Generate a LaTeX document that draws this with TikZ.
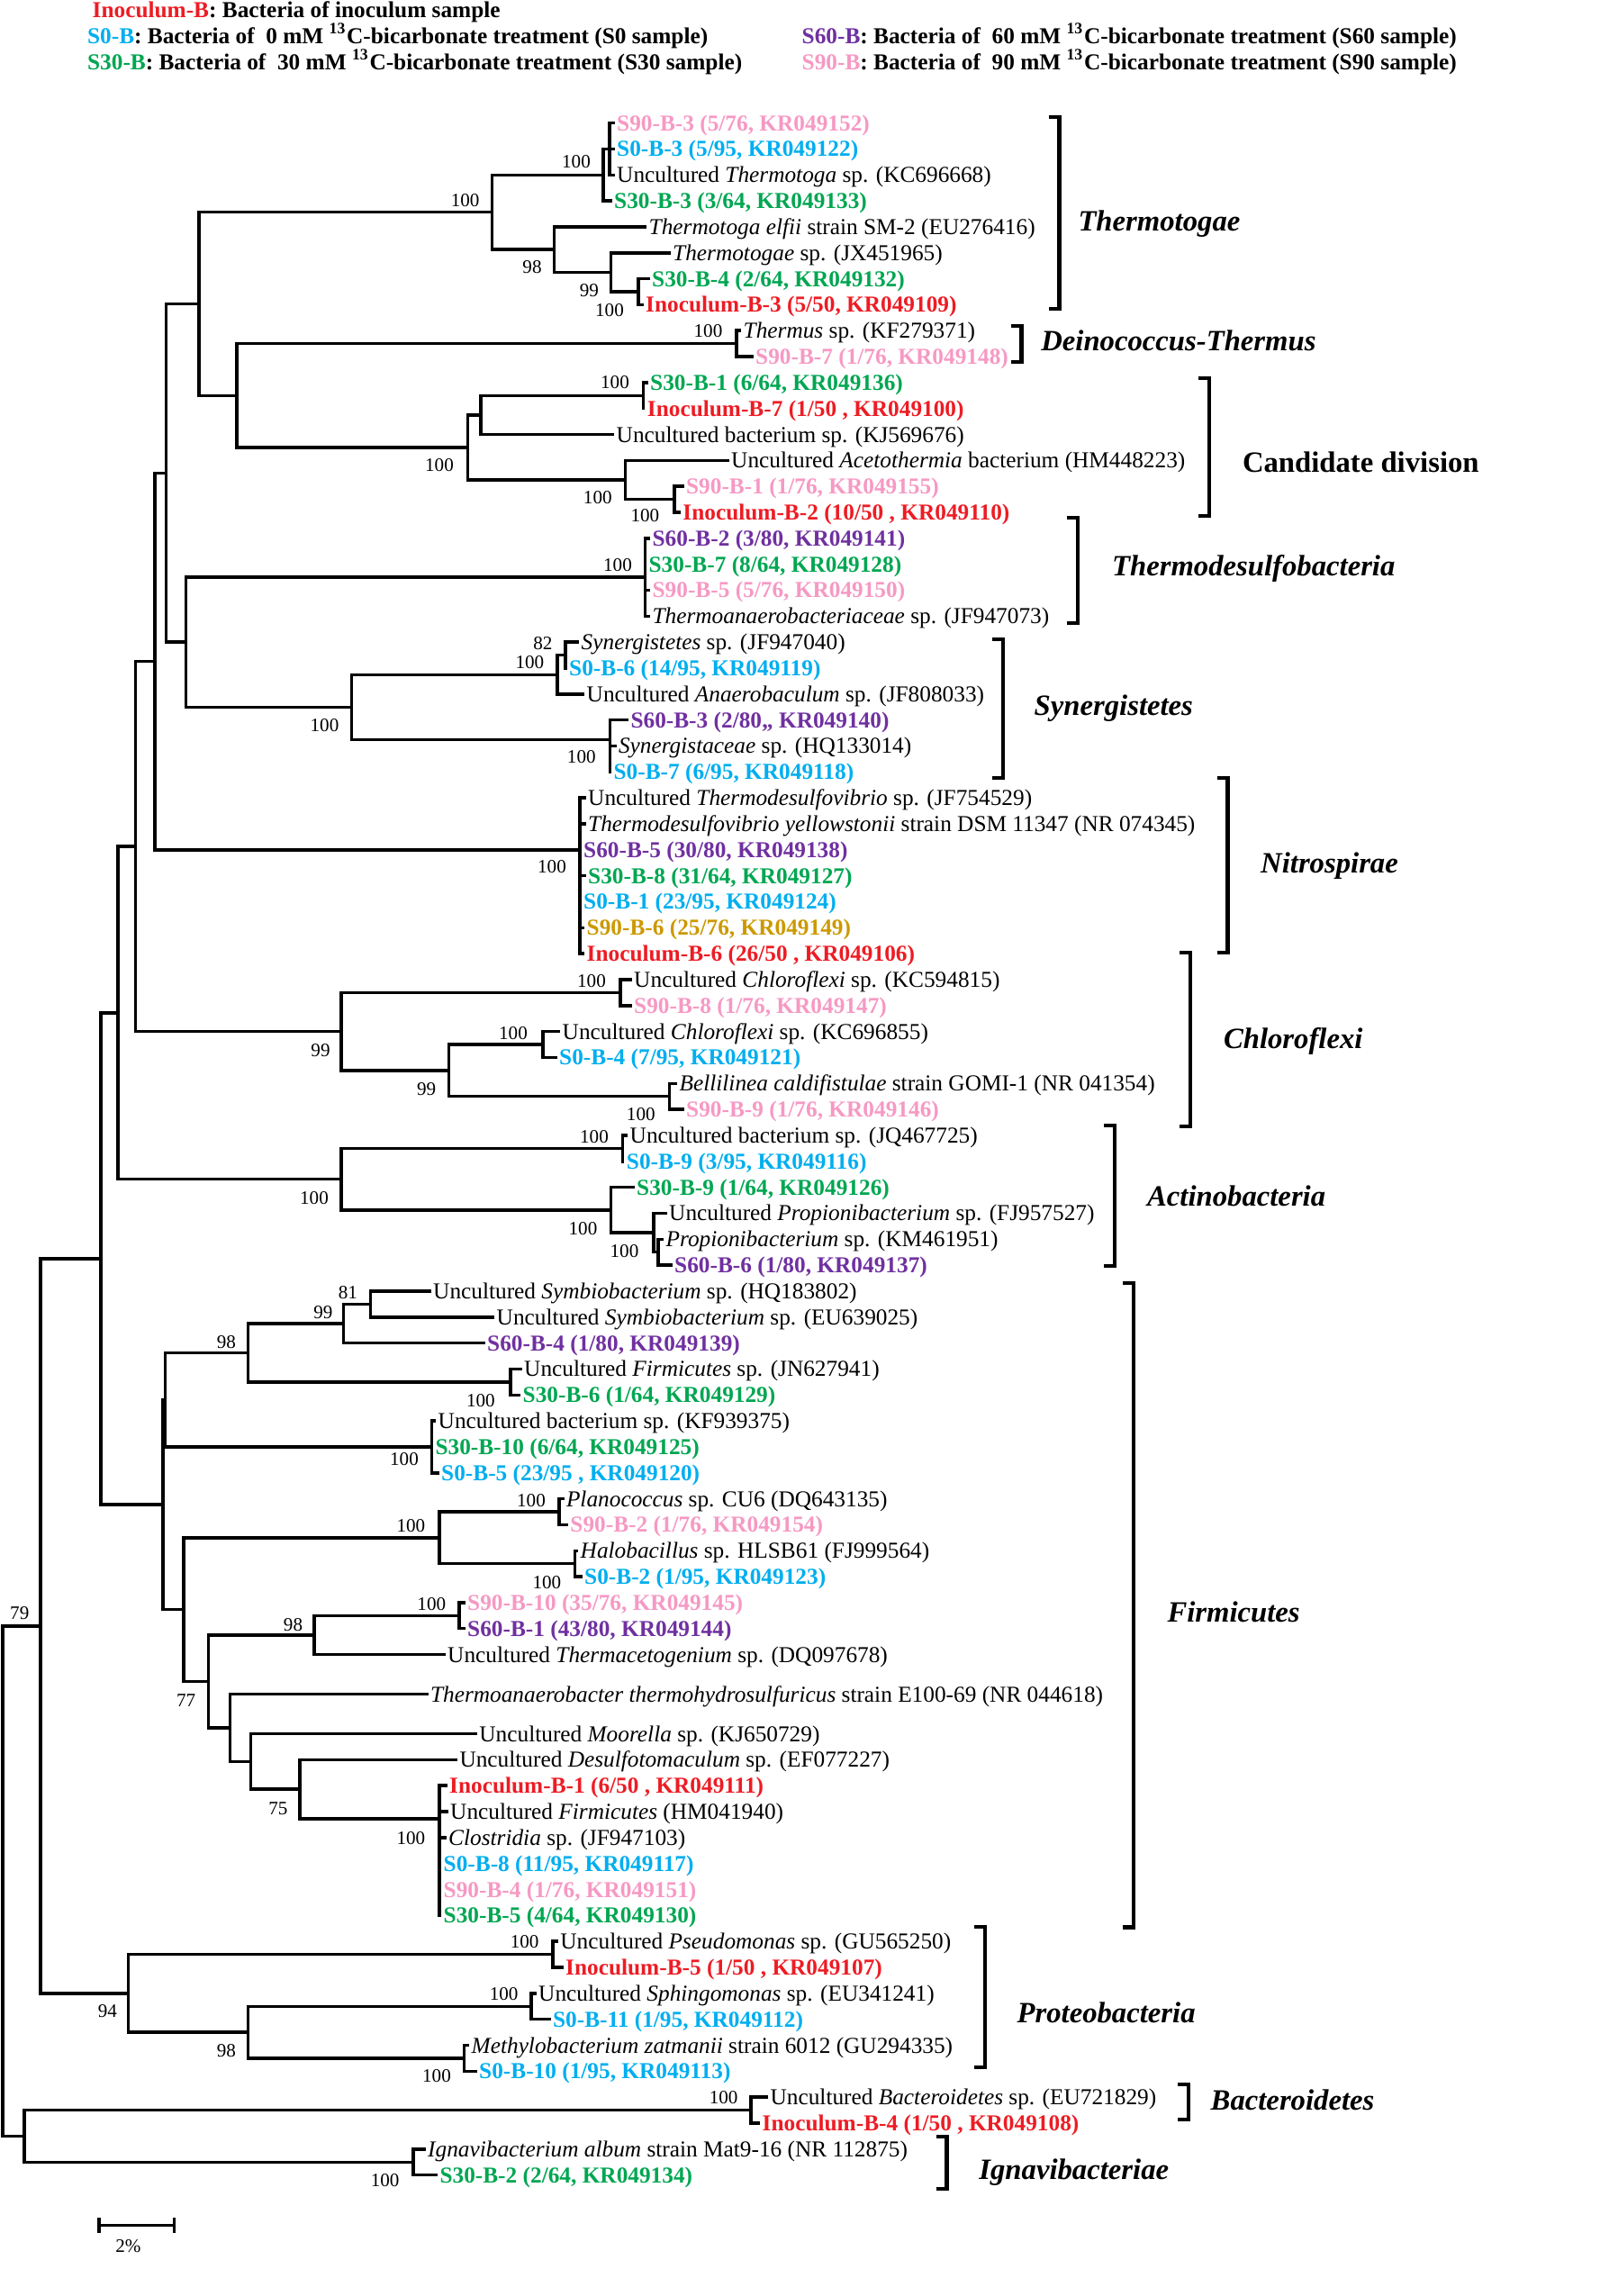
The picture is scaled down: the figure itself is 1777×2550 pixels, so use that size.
\documentclass[tikz,border=0pt]{standalone}
\usepackage{fontspec}
\setmainfont{Liberation Serif}
\usepackage{xcolor}
\usepackage{tikz}
\usetikzlibrary{arrows.meta}
\definecolor{inocred}{RGB}{237,28,36}
\definecolor{sblue}{RGB}{0,174,239}
\definecolor{sgreen}{RGB}{0,166,81}
\definecolor{spurple}{RGB}{112,48,160}
\definecolor{spink}{RGB}{246,153,196}
\definecolor{sgold}{RGB}{204,153,0}

\begin{document}
\begin{tikzpicture}[x=0.01cm, y=-0.01cm,
    branch/.style={line width=1pt, line cap=rect},
    leaf/.style={anchor=west, inner xsep=1pt, inner ysep=0pt, text height=4.8pt, text depth=0pt, font=\fontsize{7.2}{8.6}\selectfont},
    sample/.style={leaf, font=\fontsize{7.2}{8.6}\selectfont\bfseries},
    inoc/.style={sample, text=inocred},
    szero/.style={sample, text=sblue},
    sthirty/.style={sample, text=sgreen},
    ssixty/.style={sample, text=spurple},
    sninety/.style={sample, text=spink},
    sgoldtext/.style={sample, text=sgold},
    boot/.style={inner sep=0pt, font=\fontsize{6}{7}\selectfont},
    clade/.style={anchor=west, inner sep=0pt, text height=6.2pt, text depth=0pt, font=\fontsize{9.3}{11}\selectfont\bfseries\itshape},
    bracket/.style={line width=1.2pt},
    legend/.style={anchor=west, inner sep=0pt, text height=4.8pt, text depth=0pt, font=\fontsize{7.2}{8.6}\selectfont\bfseries}
]
    \useasboundingbox (0,0) rectangle (1777,2550);

    % Legend
    \node[legend] (legInoc) at (102,11) {\textcolor{inocred}{Inoculum-B}: Bacteria of inoculum sample};
    \node[legend] (legS0) at (96.4,40) {\textcolor{sblue}{S0-B}: Bacteria of\ \ 0 mM \textsuperscript{13}C-bicarbonate treatment (S0 sample)};
    \node[legend] (legS30) at (96.4,69) {\textcolor{sgreen}{S30-B}: Bacteria of\ \ 30 mM \textsuperscript{13}C-bicarbonate treatment (S30 sample)};
    \node[legend] (legS60) at (890,40) {\textcolor{spurple}{S60-B}: Bacteria of\ \ 60 mM \textsuperscript{13}C-bicarbonate treatment (S60 sample)};
    \node[legend] (legS90) at (890,69) {\textcolor{spink}{S90-B}: Bacteria of\ \ 90 mM \textsuperscript{13}C-bicarbonate treatment (S90 sample)};

    % Thermotogae
    \node[sninety] (s90b3) at (681,136.6) {S90-B-3 (5/76, KR049152)};
    \node[szero] (s0b3) at (681,165.4) {S0-B-3 (5/95, KR049122)};
    \node[leaf] (kc696668) at (681,194.3) {Uncultured \textit{Thermotoga} sp. (KC696668)};
    \node[sthirty] (s30b3) at (678,223.1) {S30-B-3 (3/64, KR049133)};
    \node[leaf] (eu276416) at (716.5,251.9) {\textit{Thermotoga elfii} strain SM-2 (EU276416)};
    \node[leaf] (jx451965) at (743,280.8) {\textit{Thermotogae} sp. (JX451965)};
    \node[sthirty] (s30b4) at (720,309.6) {S30-B-4 (2/64, KR049132)};
    \node[inoc] (inocb3) at (713,338.4) {Inoculum-B-3 (5/50, KR049109)};

    % Deinococcus-Thermus
    \node[leaf] (kf279371) at (821.5,367.2) {\textit{Thermus} sp. (KF279371)};
    \node[sninety] (s90b7) at (835,396.1) {S90-B-7 (1/76, KR049148)};

    % Candidate division
    \node[sthirty] (s30b1) at (718,424.9) {S30-B-1 (6/64, KR049136)};
    \node[inoc] (inocb7) at (714.7,453.7) {Inoculum-B-7 (1/50 , KR049100)};
    \node[leaf] (kj569676) at (680.5,482.6) {Uncultured bacterium sp. (KJ569676)};
    \node[leaf] (hm448223) at (808,511.4) {Uncultured \textit{Acetothermia} bacterium (HM448223)};
    \node[sninety] (s90b1) at (757.9,540.2) {S90-B-1 (1/76, KR049155)};
    \node[inoc] (inocb2) at (754.2,569.1) {Inoculum-B-2 (10/50 , KR049110)};

    % Thermodesulfobacteria
    \node[ssixty] (s60b2) at (720.4,597.9) {S60-B-2 (3/80, KR049141)};
    \node[sthirty] (s30b7) at (716.4,626.7) {S30-B-7 (8/64, KR049128)};
    \node[sninety] (s90b5) at (720.4,655.5) {S90-B-5 (5/76, KR049150)};
    \node[leaf] (jf947073) at (720.4,684.4) {\textit{Thermoanaerobacteriaceae} sp. (JF947073)};

    % Synergistetes
    \node[leaf] (jf947040) at (641.5,713.2) {\textit{Synergistetes} sp. (JF947040)};
    \node[szero] (s0b6) at (628,742.0) {S0-B-6 (14/95, KR049119)};
    \node[leaf] (jf808033) at (647.5,770.9) {Uncultured \textit{Anaerobaculum} sp. (JF808033)};
    \node[ssixty] (s60b3) at (696.3,799.7) {S60-B-3 (2/80,, KR049140)};
    \node[leaf] (hq133014) at (682.8,828.5) {\textit{Synergistaceae} sp. (HQ133014)};
    \node[szero] (s0b7) at (677.4,857.4) {S0-B-7 (6/95, KR049118)};

    % Nitrospirae
    \node[leaf] (jf754529) at (649,886.2) {Uncultured \textit{Thermodesulfovibrio} sp. (JF754529)};
    \node[leaf] (nr074345) at (649,915.0) {\textit{Thermodesulfovibrio yellowstonii} strain DSM 11347 (NR 074345)};
    \node[ssixty] (s60b5) at (644,943.8) {S60-B-5 (30/80, KR049138)};
    \node[sthirty] (s30b8) at (649,972.7) {S30-B-8 (31/64, KR049127)};
    \node[szero] (s0b1) at (644,1001.5) {S0-B-1 (23/95, KR049124)};
    \node[sgoldtext] (s90b6) at (647.5,1030.3) {S90-B-6 (25/76, KR049149)};
    \node[inoc] (inocb6) at (647.5,1059.2) {Inoculum-B-6 (26/50 , KR049106)};

    % Chloroflexi
    \node[leaf] (kc594815) at (700,1088.0) {Uncultured \textit{Chloroflexi} sp. (KC594815)};
    \node[sninety] (s90b8) at (700,1116.8) {S90-B-8 (1/76, KR049147)};
    \node[leaf] (kc696855) at (620.5,1145.7) {Uncultured \textit{Chloroflexi} sp. (KC696855)};
    \node[szero] (s0b4) at (617,1174.5) {S0-B-4 (7/95, KR049121)};
    \node[leaf] (nr041354) at (750.4,1203.3) {\textit{Bellilinea caldifistulae} strain GOMI-1 (NR 041354)};
    \node[sninety] (s90b9) at (758,1232.1) {S90-B-9 (1/76, KR049146)};

    % Actinobacteria
    \node[leaf] (jq467725) at (695.5,1261.0) {Uncultured bacterium sp. (JQ467725)};
    \node[szero] (s0b9) at (691.7,1289.8) {S0-B-9 (3/95, KR049116)};
    \node[sthirty] (s30b9) at (703,1318.6) {S30-B-9 (1/64, KR049126)};
    \node[leaf] (fj957527) at (739,1347.5) {Uncultured \textit{Propionibacterium} sp. (FJ957527)};
    \node[leaf] (km461951) at (735.4,1376.3) {\textit{Propionibacterium} sp. (KM461951)};
    \node[ssixty] (s60b6) at (745,1405.1) {S60-B-6 (1/80, KR049137)};

    % Firmicutes
    \node[leaf] (hq183802) at (477,1434.0) {Uncultured \textit{Symbiobacterium} sp. (HQ183802)};
    \node[leaf] (eu639025) at (547.5,1462.8) {Uncultured \textit{Symbiobacterium} sp. (EU639025)};
    \node[ssixty] (s60b4) at (537,1491.6) {S60-B-4 (1/80, KR049139)};
    \node[leaf] (jn627941) at (578,1520.4) {Uncultured \textit{Firmicutes} sp. (JN627941)};
    \node[sthirty] (s30b6) at (576.5,1549.3) {S30-B-6 (1/64, KR049129)};
    \node[leaf] (kf939375) at (482.5,1578.1) {Uncultured bacterium sp. (KF939375)};
    \node[sthirty] (s30b10) at (479.3,1606.9) {S30-B-10 (6/64, KR049125)};
    \node[szero] (s0b5) at (486,1635.8) {S0-B-5 (23/95 , KR049120)};
    \node[leaf] (dq643135) at (624.8,1664.6) {\textit{Planococcus} sp. CU6 (DQ643135)};
    \node[sninety] (s90b2) at (629.2,1693.4) {S90-B-2 (1/76, KR049154)};
    \node[leaf] (fj999564) at (640.5,1722.3) {\textit{Halobacillus} sp. HLSB61 (FJ999564)};
    \node[szero] (s0b2) at (645,1751.1) {S0-B-2 (1/95, KR049123)};
    \node[sninety] (s90b10) at (515,1779.9) {S90-B-10 (35/76, KR049145)};
    \node[ssixty] (s60b1) at (515,1808.7) {S60-B-1 (43/80, KR049144)};
    \node[leaf] (dq097678) at (493,1837.6) {Uncultured \textit{Thermacetogenium} sp. (DQ097678)};
    \node[leaf] (nr044618) at (473.8,1881.6) {\textit{Thermoanaerobacter thermohydrosulfuricus} strain E100-69 (NR 044618)};
    \node[leaf] (kj650729) at (528.2,1925.6) {Uncultured \textit{Moorella} sp. (KJ650729)};
    \node[leaf] (ef077227) at (506.3,1954.4) {Uncultured \textit{Desulfotomaculum} sp. (EF077227)};
    \node[inoc] (inocb1) at (495,1983.2) {Inoculum-B-1 (6/50 , KR049111)};
    \node[leaf] (hm041940) at (496,2012.1) {Uncultured \textit{Firmicutes} (HM041940)};
    \node[leaf] (jf947103) at (494,2040.9) {\textit{Clostridia} sp. (JF947103)};
    \node[szero] (s0b8) at (488.5,2069.7) {S0-B-8 (11/95, KR049117)};
    \node[sninety] (s90b4) at (488.5,2098.6) {S90-B-4 (1/76, KR049151)};
    \node[sthirty] (s30b5) at (488.5,2127.4) {S30-B-5 (4/64, KR049130)};

    % Proteobacteria
    \node[leaf] (gu565250) at (618.2,2156.2) {Uncultured \textit{Pseudomonas} sp. (GU565250)};
    \node[inoc] (inocb5) at (624,2185.1) {Inoculum-B-5 (1/50 , KR049107)};
    \node[leaf] (eu341241) at (594,2213.9) {Uncultured \textit{Sphingomonas} sp. (EU341241)};
    \node[szero] (s0b11) at (609.9,2242.7) {S0-B-11 (1/95, KR049112)};
    \node[leaf] (gu294335) at (519.5,2271.6) {\textit{Methylobacterium zatmanii} strain 6012 (GU294335)};
    \node[szero] (s0b10) at (528,2300.4) {S0-B-10 (1/95, KR049113)};

    % Bacteroidetes and Ignavibacteriae
    \node[leaf] (eu721829) at (851.4,2329.2) {Uncultured \textit{Bacteroidetes} sp. (EU721829)};
    \node[inoc] (inocb4) at (842.5,2358.0) {Inoculum-B-4 (1/50 , KR049108)};
    \node[leaf] (nr112875) at (471,2386.9) {\textit{Ignavibacterium album} strain Mat9-16 (NR 112875)};
    \node[sthirty] (s30b2) at (484.3,2415.7) {S30-B-2 (2/64, KR049134)};

    % Inner nodes
    \coordinate (tgB) at (677,165.4);
    \coordinate (tgA) at (670,194.3);
    \coordinate (tgE) at (709,324);
    \coordinate (tgD) at (678.5,302.4);
    \coordinate (tgC) at (615.4,277.2);
    \coordinate (tg) at (546.5,235.7);
    \coordinate (dt) at (818,381.7);
    \coordinate (cdJ) at (714.7,439.3);
    \coordinate (cdI) at (534,461);
    \coordinate (cdL) at (749,554.7);
    \coordinate (cdK) at (694.6,533);
    \coordinate (cd) at (519.5,497);
    \coordinate (dtcd) at (263,439.4);
    \coordinate (tgdc) at (221,337.5);
    \coordinate (td) at (716.4,641.2);
    \coordinate (syR) at (628,727.6);
    \coordinate (syP) at (618.8,749.3);
    \coordinate (syQ2) at (677.4,843);
    \coordinate (syQ) at (677.4,821.3);
    \coordinate (sy) at (390.4,785.3);
    \coordinate (tdsy) at (206.7,713.2);
    \coordinate (upper) at (184.3,525.4);
    \coordinate (ni2) at (644,1001.5);
    \coordinate (ni) at (644,943.9);
    \coordinate (upni) at (172.2,734.6);
    \coordinate (clW) at (688.9,1102.4);
    \coordinate (clY) at (602.8,1160.1);
    \coordinate (clZ) at (743.4,1217.7);
    \coordinate (clX) at (498.3,1188.9);
    \coordinate (cl) at (379,1145.7);
    \coordinate (upcl) at (150.4,940.2);
    \coordinate (acC) at (691.7,1275.4);
    \coordinate (acF) at (731,1390.7);
    \coordinate (acE) at (726,1369.1);
    \coordinate (acD) at (678.5,1343.9);
    \coordinate (ac) at (379,1309.6);
    \coordinate (upac) at (131,1124.9);
    \coordinate (fiO) at (411.6,1448.4);
    \coordinate (fiM) at (381.7,1470);
    \coordinate (fiN) at (567.2,1534.9);
    \coordinate (fiK) at (275.5,1502.4);
    \coordinate (fiL) at (479.3,1607);
    \coordinate (fiI) at (183.7,1554.7);
    \coordinate (fiR) at (621,1679);
    \coordinate (fiS) at (638.4,1736.7);
    \coordinate (fiP) at (488,1707.9);
    \coordinate (fiV) at (509.8,1794.3);
    \coordinate (fiT) at (349,1816);
    \coordinate (fiY) at (488,2020);
    \coordinate (fiX) at (333,1987.2);
    \coordinate (fiW) at (278.4,1956.4);
    \coordinate (fiU) at (255.5,1919);
    \coordinate (fiQ) at (231.3,1867.5);
    \coordinate (fiJ) at (203.8,1787.7);
    \coordinate (fi) at (181,1671.2);
    \coordinate (upfi) at (112,1398);
    \coordinate (prD) at (614.2,2170.7);
    \coordinate (prF) at (590,2228.3);
    \coordinate (prG) at (515.5,2286);
    \coordinate (prE) at (275.5,2257.2);
    \coordinate (pr) at (142.4,2214);
    \coordinate (uppr) at (44.8,1806);
    \coordinate (bt) at (834,2343.6);
    \coordinate (ig) at (459.2,2401.3);
    \coordinate (btig) at (27,2372.5);
    \coordinate (root) at (3,2089.2);

    % Branches
    \draw[branch] (tgB) |- (s90b3.west) (tgB) |- (s0b3.west) (tgB) |- (kc696668.west);
    \draw[branch] (tgA) |- (tgB) (tgA) |- (s30b3.west);
    \draw[branch] (tgE) |- (s30b4.west) (tgE) |- (inocb3.west);
    \draw[branch] (tgD) |- (jx451965.west) (tgD) |- (tgE);
    \draw[branch] (tgC) |- (eu276416.west) (tgC) |- (tgD);
    \draw[branch] (tg) |- (tgA) (tg) |- (tgC);
    \draw[branch] (dt) |- (kf279371.west) (dt) |- (s90b7.west);
    \draw[branch] (cdJ) |- (s30b1.west) (cdJ) |- (inocb7.west);
    \draw[branch] (cdI) |- (cdJ) (cdI) |- (kj569676.west);
    \draw[branch] (cdL) |- (s90b1.west) (cdL) |- (inocb2.west);
    \draw[branch] (cdK) |- (hm448223.west) (cdK) |- (cdL);
    \draw[branch] (cd) |- (cdI) (cd) |- (cdK);
    \draw[branch] (dtcd) |- (dt) (dtcd) |- (cd);
    \draw[branch] (tgdc) |- (tg) (tgdc) |- (dtcd);
    \draw[branch] (td) |- (s60b2.west) (td) |- (s30b7.west) (td) |- (s90b5.west) (td) |- (jf947073.west);
    \draw[branch] (syR) |- (jf947040.west) (syR) |- (s0b6.west);
    \draw[branch] (syP) |- (syR) (syP) |- (jf808033.west);
    \draw[branch] (syQ2) |- (hq133014.west) (syQ2) |- (s0b7.west);
    \draw[branch] (syQ) |- (s60b3.west) (syQ) |- (syQ2);
    \draw[branch] (sy) |- (syP) (sy) |- (syQ);
    \draw[branch] (tdsy) |- (td) (tdsy) |- (sy);
    \draw[branch] (upper) |- (tgdc) (upper) |- (tdsy);
    \draw[branch] (ni2) |- (s60b5.west) (ni2) |- (s30b8.west) (ni2) |- (s0b1.west) (ni2) |- (s90b6.west) (ni2) |- (inocb6.west);
    \draw[branch] (ni) |- (jf754529.west) (ni) |- (nr074345.west) (ni) |- (ni2);
    \draw[branch] (upni) |- (upper) (upni) |- (ni);
    \draw[branch] (clW) |- (kc594815.west) (clW) |- (s90b8.west);
    \draw[branch] (clY) |- (kc696855.west) (clY) |- (s0b4.west);
    \draw[branch] (clZ) |- (nr041354.west) (clZ) |- (s90b9.west);
    \draw[branch] (clX) |- (clY) (clX) |- (clZ);
    \draw[branch] (cl) |- (clW) (cl) |- (clX);
    \draw[branch] (upcl) |- (upni) (upcl) |- (cl);
    \draw[branch] (acC) |- (jq467725.west) (acC) |- (s0b9.west);
    \draw[branch] (acF) |- (km461951.west) (acF) |- (s60b6.west);
    \draw[branch] (acE) |- (fj957527.west) (acE) |- (acF);
    \draw[branch] (acD) |- (s30b9.west) (acD) |- (acE);
    \draw[branch] (ac) |- (acC) (ac) |- (acD);
    \draw[branch] (upac) |- (upcl) (upac) |- (ac);
    \draw[branch] (fiO) |- (hq183802.west) (fiO) |- (eu639025.west);
    \draw[branch] (fiM) |- (fiO) (fiM) |- (s60b4.west);
    \draw[branch] (fiN) |- (jn627941.west) (fiN) |- (s30b6.west);
    \draw[branch] (fiK) |- (fiM) (fiK) |- (fiN);
    \draw[branch] (fiL) |- (kf939375.west) (fiL) |- (s30b10.west) (fiL) |- (s0b5.west);
    \draw[branch] (fiI) |- (fiK) (fiI) |- (fiL);
    \draw[branch] (fiR) |- (dq643135.west) (fiR) |- (s90b2.west);
    \draw[branch] (fiS) |- (fj999564.west) (fiS) |- (s0b2.west);
    \draw[branch] (fiP) |- (fiR) (fiP) |- (fiS);
    \draw[branch] (fiV) |- (s90b10.west) (fiV) |- (s60b1.west);
    \draw[branch] (fiT) |- (fiV) (fiT) |- (dq097678.west);
    \draw[branch] (fiY) |- (inocb1.west) (fiY) |- (hm041940.west) (fiY) |- (jf947103.west) (fiY) |- (s0b8.west) (fiY) |- (s90b4.west) (fiY) |- (s30b5.west);
    \draw[branch] (fiX) |- (ef077227.west) (fiX) |- (fiY);
    \draw[branch] (fiW) |- (kj650729.west) (fiW) |- (fiX);
    \draw[branch] (fiU) |- (nr044618.west) (fiU) |- (fiW);
    \draw[branch] (fiQ) |- (fiT) (fiQ) |- (fiU);
    \draw[branch] (fiJ) |- (fiP) (fiJ) |- (fiQ);
    \draw[branch] (fi) |- (fiI) (fi) |- (fiJ);
    \draw[branch] (upfi) |- (upac) (upfi) |- (fi);
    \draw[branch] (prD) |- (gu565250.west) (prD) |- (inocb5.west);
    \draw[branch] (prF) |- (eu341241.west) (prF) |- (s0b11.west);
    \draw[branch] (prG) |- (gu294335.west) (prG) |- (s0b10.west);
    \draw[branch] (prE) |- (prF) (prE) |- (prG);
    \draw[branch] (pr) |- (prD) (pr) |- (prE);
    \draw[branch] (uppr) |- (upfi) (uppr) |- (pr);
    \draw[branch] (bt) |- (eu721829.west) (bt) |- (inocb4.west);
    \draw[branch] (ig) |- (nr112875.west) (ig) |- (s30b2.west);
    \draw[branch] (btig) |- (bt) (btig) |- (ig);
    \draw[branch] (root) |- (uppr) (root) |- (btig);

    % Bootstrap values
    \node[boot] (bsTgA) at (640,180) {100};
    \node[boot] (bsTg) at (516.7,222.7) {100};
    \node[boot] (bsTgC) at (591,297) {98};
    \node[boot] (bsTgD) at (654.4,322.7) {99};
    \node[boot] (bsTgE) at (677,345) {100};
    \node[boot] (bsDt) at (786.5,368) {100};
    \node[boot] (bsCdJ) at (683,425) {100};
    \node[boot] (bsCd) at (488,516.7) {100};
    \node[boot] (bsCdK) at (663.8,553) {100};
    \node[boot] (bsCdL) at (716.4,573) {100};
    \node[boot] (bsTd) at (686,628) {100};
    \node[boot] (bsSyR) at (602.8,715) {82};
    \node[boot] (bsSyP) at (588.4,736) {100};
    \node[boot] (bsSy) at (360.5,806) {100};
    \node[boot] (bsSyQ) at (645.8,841) {100};
    \node[boot] (bsNi) at (613,963) {100};
    \node[boot] (bsClW) at (657,1090) {100};
    \node[boot] (bsCl) at (356,1166.7) {99};
    \node[boot] (bsClY) at (570,1147.7) {100};
    \node[boot] (bsClX) at (473.6,1210) {99};
    \node[boot] (bsClZ) at (711.8,1238) {100};
    \node[boot] (bsAcC) at (660,1263) {100};
    \node[boot] (bsAc) at (349,1330.7) {100};
    \node[boot] (bsAcD) at (647.5,1365) {100};
    \node[boot] (bsAcF) at (693.5,1390) {100};
    \node[boot] (bsFiO) at (386.3,1436) {81};
    \node[boot] (bsFiM) at (358.8,1457.9) {99};
    \node[boot] (bsFiK) at (251.4,1490.5) {98};
    \node[boot] (bsFiN) at (533.9,1556) {100};
    \node[boot] (bsFiL) at (449,1621) {100};
    \node[boot] (bsFiR) at (590,1667) {100};
    \node[boot] (bsFiP) at (456.4,1695) {100};
    \node[boot] (bsFiS) at (607.4,1757.8) {100};
    \node[boot] (bsFiV) at (479.3,1781.6) {100};
    \node[boot] (bsFiT) at (325.5,1805) {98};
    \node[boot] (bsFiQ) at (206.7,1889) {77};
    \node[boot] (bsUppr) at (21.8,1792) {79};
    \node[boot] (bsFiX) at (308.8,2008.6) {75};
    \node[boot] (bsFiY) at (456.4,2041.8) {100};
    \node[boot] (bsPrD) at (582.7,2157) {100};
    \node[boot] (bsPr) at (119.4,2233.7) {94};
    \node[boot] (bsPrF) at (559.7,2215) {100};
    \node[boot] (bsPrE) at (251.4,2278) {98};
    \node[boot] (bsPrG) at (485,2306) {100};
    \node[boot] (bsBt) at (803.7,2330) {100};
    \node[boot] (bsIg) at (427.7,2421.6) {100};

    % Phylum brackets
    \draw[bracket] (1164.6,130) -| (1176.6,342.7) -- (1164.6,342.7);
    \node[clade] (labThermotogae) at (1196.8,246) {Thermotogae};
    \draw[bracket] (1122.5,361.7) -| (1134.5,401.7) -- (1122.5,401.7);
    \node[clade] (labDeino) at (1155.6,378.3) {Deinococcus-Thermus};
    \draw[bracket] (1331.2,420) -| (1343.2,573.3) -- (1331.2,573.3);
    \node[clade, font=\fontsize{9.3}{11}\selectfont\bfseries] (labCandidate) at (1379.3,513.3) {Candidate division};
    \draw[bracket] (1184.8,574.6) -| (1196.8,692) -- (1184.8,692);
    \node[clade] (labThermodesulfo) at (1234.4,629) {Thermodesulfobacteria};
    \draw[bracket] (1102.3,709.6) -| (1114.3,864) -- (1102.3,864);
    \node[clade] (labSynergistetes) at (1148,783.3) {Synergistetes};
    \draw[bracket] (1351.5,864) -| (1363.5,1058) -- (1351.5,1058);
    \node[clade] (labNitrospirae) at (1399.5,958.6) {Nitrospirae};
    \draw[bracket] (1310.2,1058.3) -| (1322.2,1250.7) -- (1310.2,1250.7);
    \node[clade] (labChloroflexi) at (1358.3,1153.3) {Chloroflexi};
    \draw[bracket] (1226,1250) -| (1238,1406) -- (1226,1406);
    \node[clade] (labActino) at (1273.4,1328.3) {Actinobacteria};
    \draw[bracket] (1246.9,1424.6) -| (1258.9,2140.5) -- (1246.9,2140.5);
    \node[clade] (labFirmicutes) at (1295.8,1791) {Firmicutes};
    \draw[bracket] (1081.8,2139.6) -| (1093.8,2296) -- (1081.8,2296);
    \node[clade] (labProteo) at (1128.9,2235.8) {Proteobacteria};
    \draw[bracket] (1308.3,2314.6) -| (1320.3,2354) -- (1308.3,2354);
    \node[clade] (labBacteroidetes) at (1344,2333) {Bacteroidetes};
    \draw[bracket] (1039.6,2372.6) -| (1051.6,2430.7) -- (1039.6,2430.7);
    \node[clade] (labIgnavi) at (1086.7,2410) {Ignavibacteriae};

    % Scale bar
    \coordinate (barL) at (108,2471.3);
    \coordinate (barR) at (195.2,2471.3);
    \draw[line width=1pt, {Bar[width=4.7pt]}-{Bar[width=4.7pt]}] (barL) -- (barR);
    \node[boot] (barLabel) at (142.4,2495) {2\%};

\end{tikzpicture}
\end{document}
